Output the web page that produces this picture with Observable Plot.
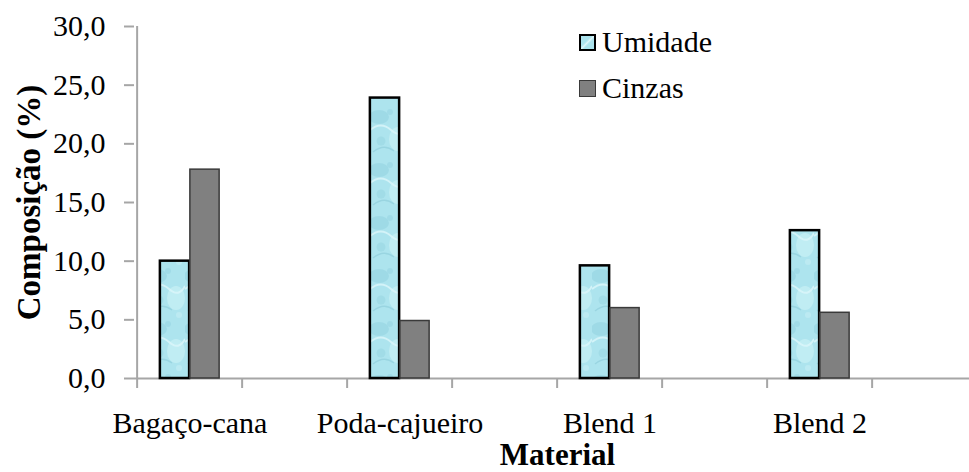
<!DOCTYPE html>
<html>
<head>
<meta charset="utf-8">
<script src="https://cdn.jsdelivr.net/npm/d3@7"></script>
<script src="https://cdn.jsdelivr.net/npm/@observablehq/plot@0.6"></script>
<style>
  html, body { margin: 0; padding: 0; background: #fff; overflow: hidden; }
  #wrap { position: relative; width: 969px; height: 472px; font-family: "Liberation Serif", "Times New Roman", serif; }
  #wrap svg { display: block; }
  g[aria-label="y-axis label"] text { font-weight: bold; font-size: 33px; }
  g[aria-label="x-axis label"] text { font-weight: bold; font-size: 31px; }
  .legend { position: absolute; left: 579px; top: 19px; font-size: 30px; line-height: 46px; color: #000; }
  .legend .row { display: flex; align-items: center; height: 46px; }
  .legend .sw { width: 17px; height: 17px; margin-right: 6px; box-sizing: border-box; }
</style>
</head>
<body>
<div id="wrap"></div>
<script>
// ---- data ----
const categories = ["Bagaço-cana", "Poda-cajueiro", "Blend 1", "Blend 2"];
const series = ["Umidade", "Cinzas"];
const umidade = [10.0, 23.9, 9.6, 12.6];
const cinzas = [17.8, 4.9, 6.0, 5.6];
const yTicks = [0, 5, 10, 15, 20, 25, 30];
const xTitle = "Material";
const yTitle = "Composição (%)";

// category slots: each material is followed by an empty slot (as in the original chart)
const slots = categories.flatMap((c, i) => [c, "__gap" + i]);

const rows = categories.flatMap((c, i) => [
  {material: c, serie: series[0], value: umidade[i]},
  {material: c, serie: series[1], value: cinzas[i]}
]);

const W = 969, H = 472, ML = 134, MR = -11, MT = 26, MB = 94;
const bw = (W - ML - MR) / slots.length;
const barW = 30;
const inOuter = bw / 2 - barW;          // space between band edge and bar pair
const gray = "#a6a6a6";
const fmt = d => d3.format(".1f")(d).replace(".", ",");

const chart = Plot.plot({
  width: W, height: H,
  marginLeft: ML, marginRight: MR, marginTop: MT, marginBottom: MB,
  style: {fontFamily: "'Liberation Serif', 'Times New Roman', serif", background: "#fff", overflow: "hidden"},
  x: {type: "band", domain: slots, padding: 0},
  y: {domain: [0, 30]},
  marks: [
    // axis lines
    Plot.ruleY([0], {stroke: gray, strokeWidth: 2}),
    Plot.ruleX([slots[0]], {dx: -bw / 2, stroke: gray, strokeWidth: 2}),
    // y axis
    Plot.axisY({ticks: yTicks, tickSize: 10, tickPadding: 19, tickFormat: fmt, fontSize: 30,
      stroke: gray, strokeWidth: 2, label: yTitle, labelAnchor: "center", labelArrow: "none", labelOffset: 118}),
    // x ticks at band boundaries
    Plot.axisX({ticks: slots, tickSize: 10, dx: -bw / 2, tickFormat: () => "", stroke: gray, strokeWidth: 2, label: null}),
    // x labels
    Plot.axisX({ticks: categories, tickSize: 0, tickPadding: 33, fontSize: 30,
      label: xTitle, labelAnchor: "center", labelArrow: "none", labelOffset: 86}),
    // bars
    Plot.barY(rows.filter(d => d.serie === series[0]), {
      x: "material", y: "value", fill: "url(#agua)", stroke: "#000", strokeWidth: 2.5,
      insetLeft: inOuter, insetRight: bw - inOuter - barW
    }),
    Plot.barY(rows.filter(d => d.serie === series[1]), {
      x: "material", y: "value", fill: "#808080", stroke: "#3a3a3a", strokeWidth: 1.5,
      insetLeft: inOuter + barW, insetRight: inOuter
    })
  ]
});

// water-like texture for "Umidade"
const defs = `
<defs>
  <pattern id="agua" patternUnits="userSpaceOnUse" width="37" height="53">
    <rect width="37" height="53" fill="#ade4ee"/>
    <ellipse cx="9" cy="11" rx="10" ry="7" fill="#8fd0de" opacity="0.5"/>
    <ellipse cx="28" cy="33" rx="9" ry="12" fill="#cbf1f6" opacity="0.65"/>
    <path d="M0 24 Q11 15 21 24 T37 21" stroke="#dcf6fa" stroke-width="2" fill="none" opacity="0.8"/>
    <path d="M3 46 Q14 37 24 45" stroke="#88c8d7" stroke-width="1.5" fill="none" opacity="0.55"/>
    <circle cx="20" cy="6" r="3" fill="#98d6e3" opacity="0.6"/>
    <circle cx="11" cy="35" r="4.5" fill="#93d2df" opacity="0.45"/>
    <circle cx="31" cy="50" r="3" fill="#c2edf4" opacity="0.7"/>
  </pattern>
</defs>`;
chart.insertAdjacentHTML("afterbegin", defs);

const wrap = document.getElementById("wrap");
wrap.appendChild(chart);

// legend
const legend = document.createElement("div");
legend.className = "legend";
const swatchStyle = [
  "background: linear-gradient(135deg, #abe3ed 40%, #dff6fa 50%, #abe3ed 60%); border:2px solid #000;",
  "background:#808080; border:1.5px solid #3a3a3a;"
];
series.forEach((s, i) => {
  const row = document.createElement("div");
  row.className = "row";
  const sw = document.createElement("div");
  sw.className = "sw";
  sw.setAttribute("style", swatchStyle[i]);
  const t = document.createElement("span");
  t.textContent = s;
  row.appendChild(sw);
  row.appendChild(t);
  legend.appendChild(row);
});
wrap.appendChild(legend);
</script>
</body>
</html>
